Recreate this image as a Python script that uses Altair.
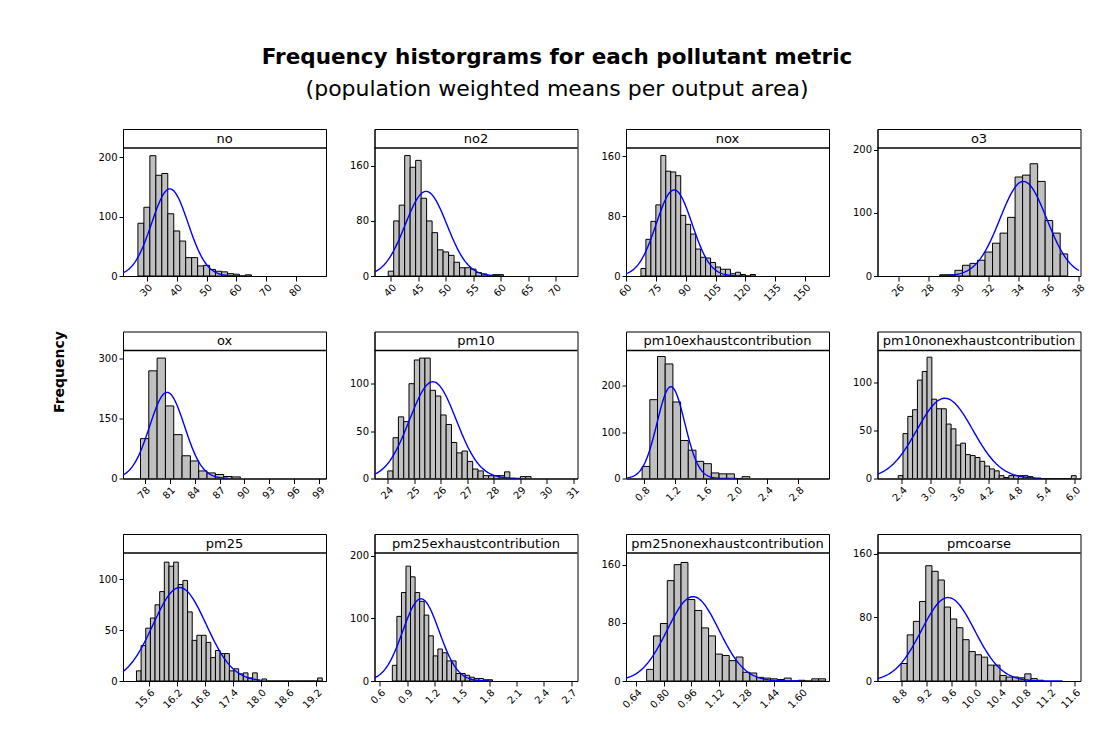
import altair as alt
import pandas as pd

names = ["no", "no2", "nox", "o3", "ox", "pm10", "pm10exhaustcontribution",
         "pm10nonexhaustcontribution", "pm25", "pm25exhaustcontribution",
         "pm25nonexhaustcontribution", "pmcoarse"]

# histogram bins: first edge, width, counts
bin_start = [27, 39.5, 67.5, 28.75, 77.5, 24.0, 0.77, 2.33, 15.33, 0.736, 0.70, 8.79]
bin_width = [2, 1, 2.5, 0.5, 1, 0.2, 0.1, 0.1, 0.1, 0.05, 0.04, 0.1]

counts_no = [89, 116, 203, 170, 173, 105, 76, 59, 31, 31, 17, 18, 11, 8, 7, 4, 3, 0, 2]
counts_no2 = [7, 80, 103, 175, 158, 168, 113, 80, 63, 38, 35, 30, 20, 12, 12, 10, 5, 3, 0, 2, 2]
counts_nox = [10, 49, 73, 95, 161, 140, 139, 134, 81, 69, 56, 36, 25, 24, 18, 12, 9, 9, 3, 5, 2, 0, 2]
counts_o3 = [2, 2, 9, 17, 20, 25, 38, 52, 68, 93, 157, 160, 178, 150, 88, 68, 35]
counts_ox = [100, 270, 302, 182, 110, 57, 44, 19, 14, 10, 5, 4]
counts_pm10 = [8, 43, 65, 60, 100, 125, 127, 127, 93, 87, 67, 57, 38, 27, 29, 18, 10, 8, 3, 3, 3, 3, 7, 0, 0, 2, 2]
counts_pm10exh = [26, 170, 263, 247, 165, 82, 61, 37, 32, 12, 10, 10, 0, 4]
counts_pm10nonexh = [3, 47, 65, 72, 103, 112, 127, 83, 73, 73, 57, 52, 35, 37, 25, 24, 22, 18, 13, 10,
                     8, 3, 1, 3, 3, 3, 3, 2, 0, 0, 0, 0, 0, 0, 0, 0, 3]
counts_pm25 = [10, 35, 52, 62, 75, 88, 117, 113, 117, 95, 99, 68, 40, 45, 45, 38, 23, 30, 27, 27,
               10, 12, 7, 8, 3, 8, 0, 2, 0, 0, 0, 0, 0, 0, 0, 0, 0, 0, 0, 3]
counts_pm25exh = [25, 103, 141, 183, 166, 141, 127, 105, 72, 40, 51, 45, 32, 32, 12, 12, 9, 6, 4, 4, 2, 2]
counts_pm25nonexh = [16, 62, 79, 138, 160, 163, 112, 97, 73, 62, 37, 35, 28, 33, 12, 11, 5, 4, 3, 2,
                     4, 0, 1, 0, 3, 3]
counts_pmcoarse = [22, 58, 75, 100, 145, 138, 127, 93, 78, 67, 52, 37, 33, 30, 20, 20, 7, 5, 5, 4, 9, 3, 1]

counts = [counts_no, counts_no2, counts_nox, counts_o3, counts_ox, counts_pm10, counts_pm10exh,
          counts_pm10nonexh, counts_pm25, counts_pm25exh, counts_pm25nonexh, counts_pmcoarse]

# fitted normal curve: mean, sd, peak height, drawn range
curve_mean = [37.7, 46.4, 84.2, 34.3, 80.7, 25.7, 1.144, 3.3, 16.26, 1.05, 0.97, 9.55]
curve_sd = [6.1, 3.8, 9.0, 1.55, 2.1, 0.88, 0.18, 0.58, 0.57, 0.20, 0.15, 0.43]
curve_peak = [147, 123, 115, 150, 216, 102, 198, 84, 92, 131, 116, 105]
curve_lo = [22, 37.1, 60, 28.7, 75.4, 23.5, 0.56, 1.9, 15.04, 0.54, 0.58, 8.41]
curve_hi = [61, 60, 119, 38.0, 88, 29.0, 2.0, 5.3, 18.0, 1.8, 1.6, 11.4]

x_domain = [[22, 90], [37, 74], [60, 162], [24.6, 38.1], [75.4, 99.8], [23.5, 31.15],
            [0.56, 3.2], [1.9, 6.12], [15.04, 19.41], [0.54, 2.77], [0.58, 1.76], [8.41, 11.69]]
y_max = [216, 186, 171, 203, 321, 135, 276, 134, 126, 204, 176, 161]

x_ticks = [[30, 40, 50, 60, 70, 80], [40, 45, 50, 55, 60, 65, 70], [60, 75, 90, 105, 120, 135, 150],
           [26, 28, 30, 32, 34, 36, 38], [78, 81, 84, 87, 90, 93, 96, 99], [24, 25, 26, 27, 28, 29, 30, 31],
           [0.8, 1.2, 1.6, 2.0, 2.4, 2.8], [2.4, 3.0, 3.6, 4.2, 4.8, 5.4, 6.0],
           [15.6, 16.2, 16.8, 17.4, 18.0, 18.6, 19.2], [0.6, 0.9, 1.2, 1.5, 1.8, 2.1, 2.4, 2.7],
           [0.64, 0.80, 0.96, 1.12, 1.28, 1.44, 1.60], [8.8, 9.2, 9.6, 10.0, 10.4, 10.8, 11.2, 11.6]]
x_fmt = ["d", "d", "d", "d", "d", "d", ".1f", ".1f", ".1f", ".1f", ".2f", ".1f"]
y_ticks = [[0, 100, 200], [0, 80, 160], [0, 80, 160], [0, 100, 200], [0, 150, 300], [0, 50, 100],
           [0, 100, 200], [0, 50, 100], [0, 50, 100], [0, 100, 200], [0, 80, 160], [0, 80, 160]]

FONT = "DejaVu Sans"
W, HH, HP = 203, 19, 128
H = HH + HP


def panel(i):
    lo = [bin_start[i] + k * bin_width[i] for k in range(len(counts[i]))]
    df = pd.DataFrame({"lo": lo, "hi": [v + bin_width[i] for v in lo], "n": counts[i]})
    xs = alt.Scale(domain=x_domain[i], nice=False, zero=False)
    ys = alt.Scale(domain=[0, y_max[i] * H / HP], nice=False, zero=True)
    if i == 4:
        yaxis_kw = dict(title="Frequency", titleFont=FONT, titleFontSize=14, titleFontWeight="bold",
                        titleColor="black", titleX=-57, titleY=40, titleAngle=270,
                        titleBaseline="bottom", titleAlign="center")
    else:
        yaxis_kw = dict(title=None)
    xaxis = alt.Axis(values=x_ticks[i], format=x_fmt[i], labelAngle=-45, title=None, grid=False,
                     tickSize=5, labelFlush=False, labelOverlap=False, labelPadding=1)
    yaxis = alt.Axis(values=y_ticks[i], grid=False, tickSize=4,
                     labelFlush=False, labelOverlap=False, labelPadding=2, **yaxis_kw)
    bars = alt.Chart(df).mark_bar(fill="#c0c0c0", stroke="black", strokeWidth=1, clip=True).encode(
        x=alt.X("lo:Q", scale=xs, axis=xaxis),
        x2="hi:Q",
        y=alt.Y("n:Q", scale=ys, axis=yaxis),
        y2=alt.datum(0),
    )
    step = (curve_hi[i] - curve_lo[i]) / 160
    curve = alt.Chart(alt.sequence(curve_lo[i], curve_hi[i] + step / 2, step, as_="x")).transform_calculate(
        y=f"{curve_peak[i]}*exp(-0.5*pow((datum.x-{curve_mean[i]})/{curve_sd[i]},2))"
    ).mark_line(color="#0000ff", strokeWidth=1.4, clip=True).encode(
        x=alt.X("x:Q", scale=xs, axis=xaxis),
        y=alt.Y("y:Q", scale=ys, axis=yaxis),
    )
    sep = alt.Chart(pd.DataFrame({"sep": [y_max[i]]})).mark_rule(color="black", strokeWidth=1.5).encode(
        y=alt.Y("sep:Q", scale=ys, axis=yaxis)
    )
    header = alt.Chart(pd.DataFrame({"name": [names[i]]})).mark_text(
        fontSize=13, font=FONT, color="black", baseline="middle").encode(
        text="name:N", x=alt.value(W / 2), y=alt.value(HH / 2))
    return alt.layer(bars, curve, sep, header).properties(width=W, height=H)


chart = alt.concat(*[panel(i) for i in range(12)], columns=4,
                   spacing={"row": 55.5, "column": 48.5}, bounds="flush").properties(
    title=alt.TitleParams(
        text="Frequency historgrams for each pollutant metric",
        subtitle="(population weighted means per output area)",
        font=FONT, fontSize=21.5, fontWeight="bold", color="black",
        subtitleFont=FONT, subtitleFontSize=22, subtitleColor="black", subtitlePadding=10,
        anchor="middle", dx=-12, offset=29,
    ),
    padding={"left": 43, "top": 39, "right": 10, "bottom": 10},
).configure_view(stroke="black", strokeWidth=1).configure_axis(
    domainColor="black", tickColor="black", labelColor="black", labelFont=FONT, labelFontSize=10,
    domainWidth=1, tickWidth=1
)

chart.save("out.html", embed_options={"renderer": "svg", "actions": False})
